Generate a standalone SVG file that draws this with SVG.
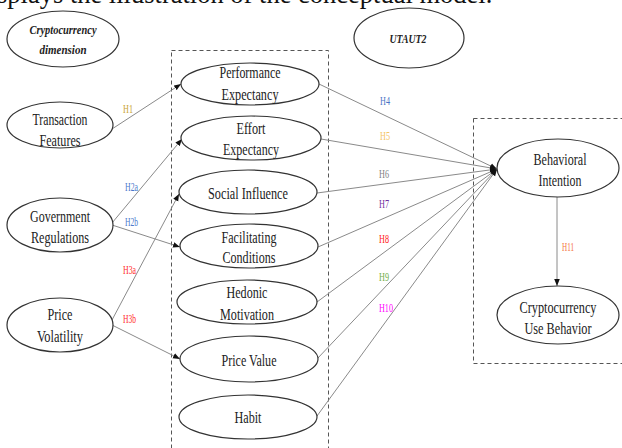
<svg xmlns="http://www.w3.org/2000/svg" width="622" height="448" viewBox="0 0 622 448">
<style>
.bg{fill:#ffffff}
.node ellipse{fill:#ffffff;stroke:#333333;stroke-width:1.2}
.t{font-family:"Liberation Serif","Times New Roman",serif;font-size:16.5px;fill:#222222;text-anchor:middle}
.ti{font-family:"Liberation Serif","Times New Roman",serif;font-size:13px;font-weight:bold;font-style:italic;fill:#222222;text-anchor:middle}
.lbl{font-family:"Liberation Serif","Times New Roman",serif;font-size:11.5px;text-anchor:start}
.c line{stroke:#8a8a8a;stroke-width:1}
.box{fill:none;stroke:#555555;stroke-width:1;stroke-dasharray:4,3}
.page{font-family:"Liberation Serif","Times New Roman",serif;font-size:26.5px;fill:#111111}
</style>
<defs>
<marker id="arr" viewBox="0 0 10 10" refX="10" refY="5" markerWidth="7" markerHeight="7" markerUnits="userSpaceOnUse" orient="auto">
<path d="M0,1 L10,5 L0,9 z" fill="#111111"/>
</marker>
</defs>
<rect class="bg" x="0" y="0" width="622" height="448"/>
<text class="page" x="-3" y="3">splays the illustration of the conceptual model.</text>

<rect class="box" x="171.5" y="50.5" width="157" height="420"/>
<rect class="box" x="473.5" y="118.5" width="170" height="245"/>

<g id="connectors" class="c">
<line x1="112" y1="129" x2="181" y2="84" marker-end="url(#arr)"/>
<line x1="112" y1="223" x2="182" y2="139" marker-end="url(#arr)"/>
<line x1="112" y1="225" x2="180" y2="247" marker-end="url(#arr)"/>
<line x1="112" y1="320" x2="179" y2="194" marker-end="url(#arr)"/>
<line x1="112" y1="325" x2="180" y2="359" marker-end="url(#arr)"/>
<line x1="319" y1="84" x2="497" y2="169" marker-end="url(#arr)"/>
<line x1="321" y1="139" x2="497" y2="169" marker-end="url(#arr)"/>
<line x1="317" y1="193" x2="497" y2="169" marker-end="url(#arr)"/>
<line x1="318" y1="247" x2="497" y2="169" marker-end="url(#arr)"/>
<line x1="317" y1="302" x2="497" y2="169" marker-end="url(#arr)"/>
<line x1="317" y1="359" x2="497" y2="169" marker-end="url(#arr)"/>
<line x1="317" y1="416" x2="497" y2="169" marker-end="url(#arr)"/>
<line x1="557" y1="197" x2="557" y2="286" marker-end="url(#arr)"/>
<text class="lbl" x="123" y="113" fill="#c9a233" textLength="10" lengthAdjust="spacingAndGlyphs">H1</text>
<text class="lbl" x="125" y="191" fill="#4a78cc" textLength="13" lengthAdjust="spacingAndGlyphs">H2a</text>
<text class="lbl" x="125" y="226" fill="#4a78cc" textLength="13" lengthAdjust="spacingAndGlyphs">H2b</text>
<text class="lbl" x="123" y="274" fill="#ff2b2b" textLength="13" lengthAdjust="spacingAndGlyphs">H3a</text>
<text class="lbl" x="123" y="323" fill="#ff2b2b" textLength="13" lengthAdjust="spacingAndGlyphs">H3b</text>
<text class="lbl" x="380" y="105" fill="#4a72c4" textLength="10" lengthAdjust="spacingAndGlyphs">H4</text>
<text class="lbl" x="380" y="140" fill="#f5c465" textLength="10" lengthAdjust="spacingAndGlyphs">H5</text>
<text class="lbl" x="379" y="178" fill="#808080" textLength="10" lengthAdjust="spacingAndGlyphs">H6</text>
<text class="lbl" x="379" y="208" fill="#7030a0" textLength="10" lengthAdjust="spacingAndGlyphs">H7</text>
<text class="lbl" x="379" y="243" fill="#ff1a1a" textLength="10" lengthAdjust="spacingAndGlyphs">H8</text>
<text class="lbl" x="379" y="281" fill="#70ad47" textLength="10" lengthAdjust="spacingAndGlyphs">H9</text>
<text class="lbl" x="379" y="312" fill="#ff00ff" textLength="14" lengthAdjust="spacingAndGlyphs">H10</text>
<text class="lbl" x="562" y="251" fill="#f4733a" textLength="12" lengthAdjust="spacingAndGlyphs">H11</text>
</g>

<g id="crypto-dimension" class="node">
<ellipse cx="63" cy="39" rx="56" ry="28"/>
<text class="ti" x="63" y="34" textLength="67" lengthAdjust="spacingAndGlyphs">Cryptocurrency</text>
<text class="ti" x="63" y="54" textLength="47" lengthAdjust="spacingAndGlyphs">dimension</text>
</g>
<g id="utaut2" class="node">
<ellipse cx="409" cy="38" rx="55" ry="30"/>
<text class="ti" x="408" y="43" textLength="37" lengthAdjust="spacingAndGlyphs">UTAUT2</text>
</g>

<g id="transaction" class="node">
<ellipse cx="60" cy="125" rx="53" ry="23"/>
<text class="t" x="60" y="125" textLength="55" lengthAdjust="spacingAndGlyphs">Transaction</text>
<text class="t" x="60" y="146" textLength="41" lengthAdjust="spacingAndGlyphs">Features</text>
</g>
<g id="government" class="node">
<ellipse cx="60" cy="225" rx="53" ry="27"/>
<text class="t" x="60" y="222" textLength="60" lengthAdjust="spacingAndGlyphs">Government</text>
<text class="t" x="60" y="243" textLength="58" lengthAdjust="spacingAndGlyphs">Regulations</text>
</g>
<g id="price-volatility" class="node">
<ellipse cx="60" cy="325" rx="53" ry="27"/>
<text class="t" x="60" y="320" textLength="25" lengthAdjust="spacingAndGlyphs">Price</text>
<text class="t" x="60" y="342" textLength="46" lengthAdjust="spacingAndGlyphs">Volatility</text>
</g>

<g id="performance" class="node">
<ellipse cx="250" cy="84" rx="69" ry="21"/>
<text class="t" x="250" y="78" textLength="61" lengthAdjust="spacingAndGlyphs">Performance</text>
<text class="t" x="250" y="100" textLength="57" lengthAdjust="spacingAndGlyphs">Expectancy</text>
</g>
<g id="effort" class="node">
<ellipse cx="251" cy="138" rx="70" ry="22"/>
<text class="t" x="251" y="134" textLength="29" lengthAdjust="spacingAndGlyphs">Effort</text>
<text class="t" x="251" y="155" textLength="56" lengthAdjust="spacingAndGlyphs">Expectancy</text>
</g>
<g id="social" class="node">
<ellipse cx="248" cy="192" rx="69" ry="22"/>
<text class="t" x="248" y="199" textLength="80" lengthAdjust="spacingAndGlyphs">Social Influence</text>
</g>
<g id="facilitating" class="node">
<ellipse cx="249" cy="246" rx="69" ry="22"/>
<text class="t" x="249" y="243" textLength="55" lengthAdjust="spacingAndGlyphs">Facilitating</text>
<text class="t" x="249" y="263" textLength="53" lengthAdjust="spacingAndGlyphs">Conditions</text>
</g>
<g id="hedonic" class="node">
<ellipse cx="247" cy="302" rx="70" ry="22"/>
<text class="t" x="247" y="298" textLength="41" lengthAdjust="spacingAndGlyphs">Hedonic</text>
<text class="t" x="247" y="320" textLength="54" lengthAdjust="spacingAndGlyphs">Motivation</text>
</g>
<g id="price-value" class="node">
<ellipse cx="249" cy="359" rx="69" ry="23"/>
<text class="t" x="249" y="366" textLength="55" lengthAdjust="spacingAndGlyphs">Price Value</text>
</g>
<g id="habit" class="node">
<ellipse cx="248" cy="417" rx="69" ry="22"/>
<text class="t" x="248" y="423" textLength="27" lengthAdjust="spacingAndGlyphs">Habit</text>
</g>

<g id="behavioral" class="node">
<ellipse cx="558" cy="168" rx="61" ry="29"/>
<text class="t" x="560" y="165" textLength="53" lengthAdjust="spacingAndGlyphs">Behavioral</text>
<text class="t" x="560" y="186" textLength="43" lengthAdjust="spacingAndGlyphs">Intention</text>
</g>
<g id="use-behavior" class="node">
<ellipse cx="558" cy="315" rx="61" ry="29"/>
<text class="t" x="558" y="313" textLength="77" lengthAdjust="spacingAndGlyphs">Cryptocurrency</text>
<text class="t" x="558" y="334" textLength="67" lengthAdjust="spacingAndGlyphs">Use Behavior</text>
</g>
</svg>
